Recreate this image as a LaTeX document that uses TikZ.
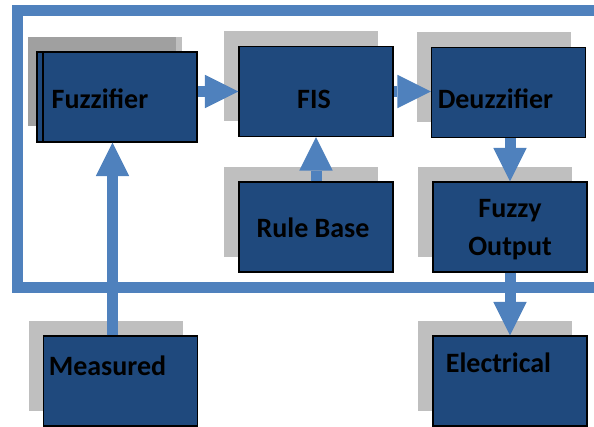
\documentclass[tikz,border=0pt]{standalone}
\usepackage{fontspec}
\setmainfont{Carlito}
\usetikzlibrary{arrows.meta}
\usetikzlibrary{shadows}
\definecolor{boxblue}{HTML}{1F497D}
\definecolor{linkblue}{HTML}{4F81BD}
\definecolor{shadegray}{HTML}{BFBFBF}
\definecolor{darkshade}{HTML}{A0A0A0}

\begin{document}
\begin{tikzpicture}[x=0.75pt,y=-0.75pt,
    block/.style={draw=black,line width=1.1pt,fill=boxblue,minimum width=115.5pt,minimum height=67.5pt,inner sep=0pt},
    sblock/.style={block,general shadow={fill=shadegray,shadow xshift=-11.25pt,shadow yshift=11.25pt}},
    lbl/.style={font=\bfseries\fontsize{21}{28.5}\selectfont,text=black,inner sep=0pt,align=center},
    link/.style={draw=linkblue,line width=8.25pt,-{Triangle[length=25pt,width=25pt,line width=0pt]}}]
            \useasboundingbox (0,0) rectangle (594,427);

            \draw[linkblue,line width=8.25pt] (594,11) -- (17,11) -- (17,288) -- (594,288);

            \fill[shadegray] (28,37) rectangle (182,126);
            \fill[darkshade] (28,37) rectangle (176,126);
            \node[block] (fuzzback) at (114,97) {};
            \node[block] (fuzz) at (120,97) {};
            \foreach \n/\x/\y in {fis/316/91.5,deuz/508.5/92.5,rule/316/227,fuzzy/510/227,elec/510/381,meas/120.5/381}{
                \node[sblock] (\n) at (\x,\y) {};
            }

            \node[lbl] (fuzzt) at (100,99) {Fuzzifier};
            \node[lbl] (fist) at (314,99) {FIS};
            \node[lbl] (deuzt) at (495.5,99) {Deuzzifier};
            \node[lbl] (rulet) at (313,228) {Rule Base};
            \node[lbl] (fuzzyt) at (510,230) {Fuzzy\\Output};
            \node[lbl] (elect) at (498.5,363) {Electrical};
            \node[lbl] (meast) at (107.5,366) {Measured};

            \draw[link] (fuzz.east |- fis.west) -- (fis.west);
            \draw[link] (fis.east) -- (deuz.west |- fis.east);
            \draw[link] (deuz.south -| fuzzy.north) -- (fuzzy.north);
            \draw[link] (rule.north) -- (fis.south);
            \draw[link] (fuzzy.south) -- (elec.north);
            \draw[link] ([xshift=-6pt]meas.north) -- ([xshift=-6pt]meas.north |- fuzz.south);
        \end{tikzpicture}
\end{document}
